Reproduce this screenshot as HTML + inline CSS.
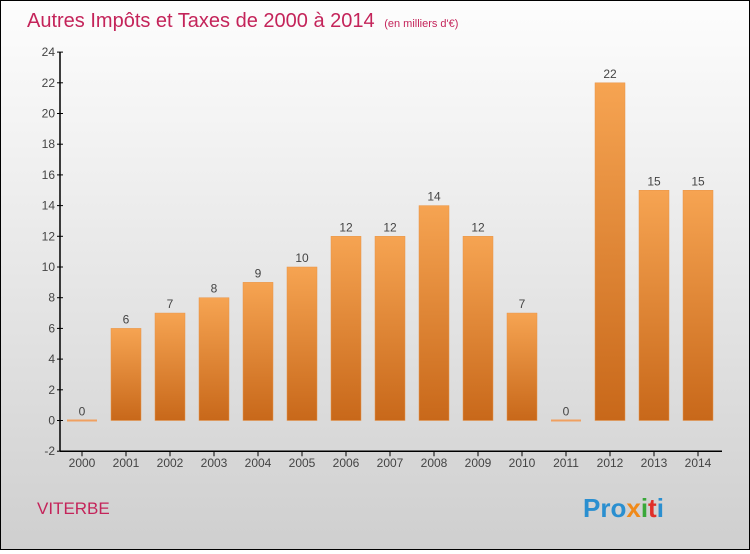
<!DOCTYPE html>
<html><head><meta charset="utf-8"><style>
body{margin:0;width:750px;height:550px;overflow:hidden}
#wrap{position:relative;width:748px;height:548px;border:1px solid #000;background:linear-gradient(#fdfdfd,#f0f0f0 30%,#cfcfcf);font-family:"Liberation Sans",sans-serif}
</style></head><body>
<div id="wrap">
<svg id="chart" width="748" height="548">
<defs><linearGradient id="bg" x1="0" y1="0" x2="0" y2="1"><stop offset="0" stop-color="#f6a452"/><stop offset="1" stop-color="#c8681a"/></linearGradient></defs>
<text x="26" y="26" font-size="20" fill="#c4245a">Autres Impôts et Taxes de 2000 à 2014 <tspan font-size="11" dx="4">(en milliers d'€)</tspan></text>
<text x="36" y="513" font-size="17" fill="#c4245a">VITERBE</text>
<text x="582" y="516" font-size="26" font-weight="bold" fill="#2a8fd0">Pro<tspan fill="#f08a1a">x</tspan><tspan fill="#3aa83a">i</tspan><tspan fill="#e0302a">t</tspan><tspan fill="#2a8fd0">i</tspan></text>
</svg></div>
<script>
const years=["2000","2001","2002","2003","2004","2005","2006","2007","2008","2009","2010","2011","2012","2013","2014"];
const values=[0,6,7,8,9,10,12,12,14,12,7,0,22,15,15];
const yTicks=[-2,0,2,4,6,8,10,12,14,16,18,20,22,24];
const svg=document.getElementById('chart');const NS="http://www.w3.org/2000/svg";
const y=v=>419.5-(v*15.35);const x=i=>81+i*44;
function mk(t,a){const e=document.createElementNS(NS,t);for(const k in a)e.setAttribute(k,a[k]);svg.appendChild(e);return e;}
let ax=mk('line',{x1:59,y1:y(24),x2:59,y2:y(-2),stroke:'#000','stroke-width':1.5});


let xa=mk('line',{x1:59,y1:y(-2),x2:721,y2:y(-2),stroke:'#000','stroke-width':1.5});


yTicks.forEach(v=>{
 mk('line',{x1:56,x2:62,y1:y(v),y2:y(v),stroke:'#000'});
 const t=mk('text',{x:54,y:y(v)+4,'text-anchor':'end','font-size':12,fill:'#444'});t.textContent=v;
 
 
});
years.forEach((yr,i)=>{
 const v=values[i];
 mk('line',{x1:x(i),x2:x(i),y1:y(-2),y2:y(-2)+5,stroke:'#000'});
 const t=mk('text',{x:x(i),y:y(-2)+16,'text-anchor':'middle','font-size':12,fill:'#444'});t.textContent=yr;
 
 
 let b;
 if(v===0){b=mk('rect',{x:x(i)-15,y:y(0)-1,width:30,height:2,fill:'#f0a060'});}
 else b=mk('rect',{x:x(i)-15,y:y(v),width:30,height:y(0)-y(v),fill:'url(#bg)',stroke:'#e89448','stroke-width':0.5});
 
 
 const l=mk('text',{x:x(i),y:y(v)-5,'text-anchor':'middle','font-size':12,fill:'#444'});l.textContent=v;
 
 
});
</script></body></html>
